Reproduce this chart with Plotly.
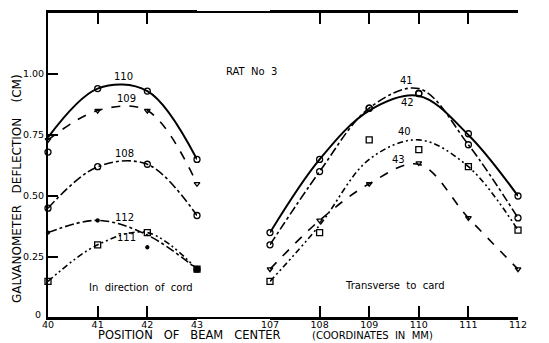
import plotly.graph_objects as go

# ---- data ----
left_x = [40, 41, 42, 43]
right_x = [107, 108, 109, 110, 111, 112]

# left panel ("In direction of cord"): curves as drawn, and measured points
curve_110 = [0.74, 0.94, 0.93, 0.65]
pts_110 = [0.68, 0.94, 0.93, 0.65]
curve_109 = [0.73, 0.85, 0.85, 0.55]
pts_109 = [0.73, 0.85, 0.85, 0.55]
curve_108 = [0.45, 0.62, 0.63, 0.42]
pts_108 = [0.45, 0.62, 0.63, 0.42]
curve_112 = [0.35, 0.40, 0.34, 0.20]
pts_112 = [0.35, 0.40, 0.29, 0.20]
curve_111 = [0.15, 0.30, 0.35, 0.20]
pts_111 = [0.15, 0.30, 0.35, 0.20]

# right panel ("Transverse to card")
curve_42 = [0.35, 0.65, 0.85, 0.91, 0.75, 0.50]
pts_42 = [0.35, 0.65, 0.86, 0.92, 0.755, 0.50]
curve_41 = [0.30, 0.60, 0.86, 0.94, 0.71, 0.41]
pts_41 = [0.30, 0.60, 0.86, 0.92, 0.71, 0.41]
curve_40 = [0.15, 0.38, 0.65, 0.73, 0.62, 0.36]
pts_40 = [0.15, 0.35, 0.73, 0.69, 0.62, 0.36]
curve_43 = [0.20, 0.40, 0.55, 0.63, 0.41, 0.20]
pts_43 = [0.20, 0.40, 0.55, 0.635, 0.41, 0.20]

y_tickvals = [0.25, 0.5, 0.75, 1.0]
y_ticktext = ["0.25", "0.50", "0.75", "1.00"]
y2_tickvals = [0.25, 0.5, 0.75, 1.0]
y2_ticktext = ["0.25", "0.50", "0.75", "1.00"]
y_zero_label = "0"

FONT = "DejaVu Sans"
DDOT = "6px,3px,2px,3px,2px,3px"
NB = "\u00a0"

# page body has an 8px margin: figure is 541x335, placed at (8, 8) in the window
W, H, OFF = 541, 335, 8

def fx(xw):  # window px -> paper fraction
    return (xw - OFF) / W

def fy(yw):
    return 1 - (yw - OFF) / H

fig = go.Figure()

def add(xs, curve, pts, xaxis, dash, width, symbol, msize=6, name=""):
    fig.add_trace(go.Scatter(x=xs, y=curve, mode="lines", xaxis=xaxis, yaxis="y",
                             line=dict(color="black", width=width, dash=dash, shape="spline"),
                             cliponaxis=False, showlegend=False, hoverinfo="skip"))
    fig.add_trace(go.Scatter(x=xs, y=pts, mode="markers", xaxis=xaxis, yaxis="y", name=name,
                             marker=dict(symbol=symbol, size=msize, color="black",
                                         line=dict(color="black", width=1.3)),
                             cliponaxis=False, showlegend=False))

add(left_x, curve_110, pts_110, "x", "solid", 2, "circle-open", name="110")
add(left_x, curve_109, pts_109, "x", "dash", 1.6, "triangle-down-open", 5, name="109")
add(left_x, curve_108, pts_108, "x", "dashdot", 1.6, "circle-open", name="108")
add(left_x, curve_112, pts_112, "x", "dashdot", 1.6, "circle", 3, name="112")
add(left_x, curve_111, pts_111, "x", DDOT, 1.6, "square-open", name="111")

add(right_x, curve_42, pts_42, "x2", "solid", 2, "circle-open", name="42")
add(right_x, curve_41, pts_41, "x2", "dashdot", 1.6, "circle-open", name="41")
add(right_x, curve_40, pts_40, "x2", DDOT, 1.6, "square-open", name="40")
add(right_x, curve_43, pts_43, "x2", "dash", 1.6, "triangle-down-open", 5, name="43")

# filled point where 111 and 112 meet at 43
fig.add_trace(go.Scatter(x=[left_x[-1]], y=[pts_111[-1]], mode="markers", xaxis="x", yaxis="y",
                         marker=dict(symbol="circle", size=7, color="black"),
                         cliponaxis=False, showlegend=False))

tickfont = dict(family=FONT, size=9.5, color="black")
axis_common = dict(showgrid=False, zeroline=False, showline=True, linecolor="black",
                   linewidth=2, ticks="inside", tickcolor="black", tickwidth=1.5,
                   tickfont=tickfont, automargin=False)

fig.update_layout(
    width=W, height=H,
    margin=dict(l=0, r=0, t=0, b=0, autoexpand=False),
    paper_bgcolor="white", plot_bgcolor="white",
    xaxis=dict(domain=[fx(48), fx(197)], range=[40, 43], tickvals=left_x, ticklen=12,
               ticklabelstandoff=-3, mirror="ticks", anchor="y", **axis_common),
    xaxis2=dict(domain=[fx(270), fx(518)], range=[107, 112], tickvals=right_x, ticklen=12,
                ticklabelstandoff=-3, mirror="ticks", anchor="y", **axis_common),
    yaxis=dict(domain=[fy(318), fy(12)], range=[0, 1.254], tickvals=y_tickvals,
               ticktext=y_ticktext, ticklen=10, anchor="x", **axis_common),
    yaxis2=dict(domain=[fy(318), fy(12)], range=[0, 1.254], tickvals=y2_tickvals,
                ticktext=y2_ticktext, ticklen=10,
                overlaying="y", side="right", anchor="x2", **axis_common),
    showlegend=False,
)

# continuous top and bottom frame lines
for yw in (12, 318):
    fig.add_shape(type="line", xref="paper", yref="paper", x0=fx(48), x1=fx(518),
                  y0=fy(yw), y1=fy(yw), layer="above", line=dict(color="black", width=2))

lab = dict(family=FONT, size=10, color="black")
ann = [
    ("110", "x", 41.51, 0.988), ("109", "x", 41.59, 0.90), ("108", "x", 41.55, 0.676),
    ("112", "x", 41.55, 0.41), ("111", "x", 41.59, 0.33),
    ("41", "x2", 109.76, 0.975), ("42", "x2", 109.78, 0.885),
    ("40", "x2", 109.72, 0.766), ("43", "x2", 109.6, 0.648),
]
for t, xr, xv, yv in ann:
    fig.add_annotation(text=t, x=xv, y=yv, xref=xr, yref="y", showarrow=False, font=lab)

# "0" label of the y axis, set a little up-left of the corner
fig.add_annotation(text=y_zero_label, x=40, y=0, xref="x", yref="y", xshift=-10, yshift=4,
                   showarrow=False, font=dict(family=FONT, size=9.5, color="black"))

fig.add_annotation(text=f"In{NB} direction{NB} of{NB} cord", x=41.87, y=0.127, xref="x", yref="y",
                   showarrow=False, font=dict(family=FONT, size=10, color="black"))
fig.add_annotation(text=f"Transverse{NB} to{NB} card", x=109.52, y=0.135, xref="x2", yref="y",
                   showarrow=False, font=dict(family=FONT, size=10, color="black"))
# texts placed from axis anchors with pixel shifts
fig.add_annotation(text=f"RAT{NB} No{NB} 3", x=107, y=1.0, xref="x2", yref="y",
                   xshift=251 - 270, yshift=318 - 72 - 244, showarrow=False,
                   font=dict(family=FONT, size=10, color="black"))
fig.add_annotation(text=f"POSITION{NB}{NB} OF{NB}{NB} BEAM{NB}{NB} CENTER",
                   x=43, y=0, xref="x", yref="y", xshift=189 - 197, yshift=-(335 - 318),
                   showarrow=False, font=dict(family=FONT, size=11.5, color="black"))
fig.add_annotation(text=f"(COORDINATES{NB} IN{NB} MM)",
                   x=109, y=0, xref="x2", yref="y", xshift=372 - 369, yshift=-(335 - 318),
                   showarrow=False, font=dict(family=FONT, size=10, color="black"))
fig.add_annotation(text=f"GALVANOMETER{NB}{NB} DEFLECTION{NB}{NB}{NB} (CM)",
                   x=40, y=0.5, xref="x", yref="y", xshift=17 - 48, yshift=(318 - 189) - 122,
                   textangle=-90, showarrow=False,
                   font=dict(family=FONT, size=12, color="black"))

fig.write_html("out.html")
